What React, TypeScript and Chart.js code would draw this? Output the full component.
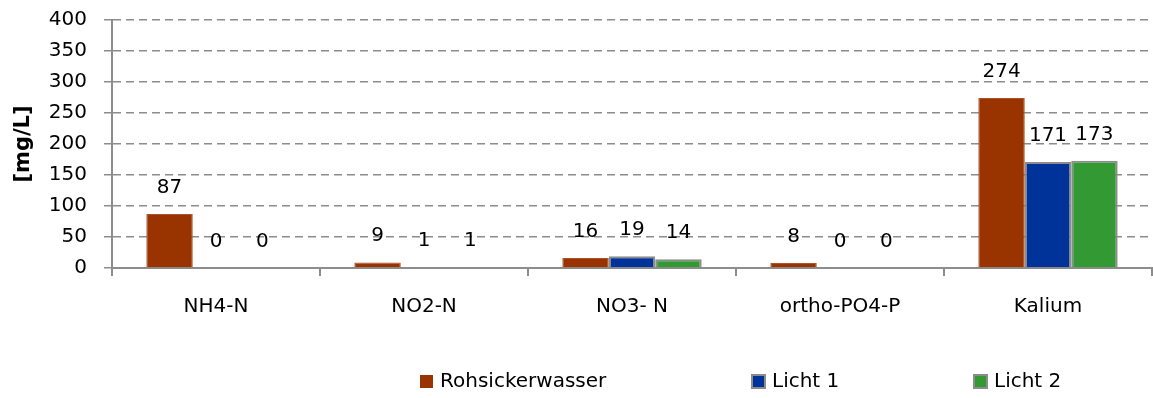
import React, { useEffect, useRef } from "react";
import { Chart, registerables } from "chart.js";

Chart.register(...registerables);

const categories = ["NH4-N", "NO2-N", "NO3- N", "ortho-PO4-P", "Kalium"];
const seriesNames = ["Rohsickerwasser", "Licht 1", "Licht 2"];
const rohsickerwasser = [87, 9, 16, 8, 274];
const licht1 = [0, 1, 19, 0, 171];
const licht2 = [0, 1, 14, 0, 173];
const yTicks = [0, 50, 100, 150, 200, 250, 300, 350, 400];

const FONT = "'DejaVu Sans', sans-serif";
const colors = ["#993300", "#003399", "#339933"];
const borders = ["#b0502a", "#8c8c8c", "#8c8c8c"];

const dataLabels = {
  id: "dataLabels",
  afterDatasetsDraw(chart: any) {
    const ctx = chart.ctx;
    ctx.save();
    ctx.font = `20px ${FONT}`;
    ctx.fillStyle = "#000";
    ctx.textAlign = "center";
    ctx.textBaseline = "alphabetic";
    chart.data.datasets.forEach((ds: any, i: number) => {
      const meta = chart.getDatasetMeta(i);
      meta.data.forEach((el: any, j: number) => {
        ctx.fillText(String(ds.data[j]), el.x, el.y - 21);
      });
    });
    ctx.restore();
  },
};

const customLegend = {
  id: "customLegend",
  afterDraw(chart: any) {
    const ctx = chart.ctx;
    const xs = [420, 752, 974];
    const yc = 381;
    ctx.save();
    ctx.font = `20px ${FONT}`;
    ctx.textBaseline = "middle";
    ctx.textAlign = "left";
    seriesNames.forEach((name, i) => {
      const x = xs[i];
      ctx.fillStyle = colors[i];
      ctx.fillRect(x, yc - 6, 13, 13);
      if (i > 0) {
        ctx.strokeStyle = "#8c8c8c";
        ctx.lineWidth = 2;
        ctx.strokeRect(x, yc - 6, 13, 13);
      }
      ctx.fillStyle = "#000";
      ctx.fillText(name, x + 20, yc + 1);
    });
    ctx.restore();
  },
};

export default function App() {
  const ref = useRef<HTMLCanvasElement | null>(null);
  useEffect(() => {
    document.body.style.margin = "0";
    const values = [rohsickerwasser, licht1, licht2];
    const chart = new Chart(ref.current as HTMLCanvasElement, {
      type: "bar",
      data: {
        labels: categories,
        datasets: seriesNames.map((name, i) => ({
          label: name,
          data: values[i],
          backgroundColor: colors[i],
          borderColor: borders[i],
          borderWidth: i === 0 ? 1 : 2,
          categoryPercentage: 0.67,
          barPercentage: 1,
        })),
      },
      options: {
        animation: false,
        responsive: false,
        maintainAspectRatio: false,
        layout: { padding: { left: 6, top: 20, right: 1, bottom: 0 } },
        plugins: {
          legend: { display: false },
          tooltip: { enabled: false },
        },
        scales: {
          x: {
            grid: {
              display: true,
              drawOnChartArea: false,
              drawTicks: true,
              tickLength: 8,
              color: "#8c8c8c",
              lineWidth: 2,
              offset: true,
            },
            border: { display: true, color: "#8c8c8c", width: 2 },
            ticks: {
              font: { family: FONT, size: 20 },
              color: "#000",
              padding: 19,
              maxRotation: 0,
            },
            afterFit: (s: any) => {
              s.height = 130;
            },
          },
          y: {
            min: 0,
            max: 400,
            afterBuildTicks: (s: any) => {
              s.ticks = yTicks.map((v) => ({ value: v }));
            },
            grid: {
              color: "#8c8c8c",
              lineWidth: 1.5,
              tickLength: 8,
              tickBorderDash: [],
            },
            border: { display: true, color: "#8c8c8c", width: 2, dash: [8, 5] },
            ticks: {
              font: { family: FONT, size: 20 },
              color: "#000",
              padding: 17,
            },
            title: {
              display: true,
              text: "[mg/L]",
              font: { family: FONT, size: 21, weight: "bold" },
              color: "#000",
              padding: { top: 5, bottom: 0 },
            },
            afterFit: (s: any) => {
              s.width = 106;
              s.paddingTop = 0;
              s.paddingBottom = 0;
            },
          },
        },
      },
      plugins: [dataLabels, customLegend],
    });
    return () => chart.destroy();
  }, []);
  return (
    <div style={{ width: 1153, height: 398 }}>
      <canvas ref={ref} width={1153} height={398} style={{ display: "block" }} />
    </div>
  );
}
